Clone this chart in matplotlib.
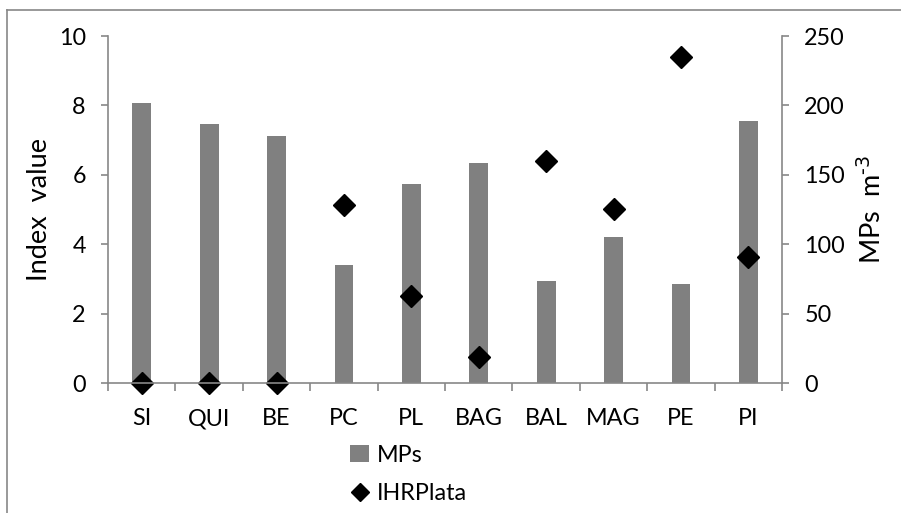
import numpy as np
import matplotlib.pyplot as plt
from matplotlib.lines import Line2D

plt.rcParams['font.family'] = ['Lato', 'DejaVu Sans']

sites = ["SI", "QUI", "BE", "PC", "PL", "BAG", "BAL", "MAG", "PE", "PI"]
mps = [201.5, 187, 178, 85, 143.5, 158.5, 73.5, 105, 71.5, 188.5]
ihr_plata = [0, 0, 0, 5.12, 2.5, 0.75, 6.39, 5.01, 9.39, 3.63]

grey = "#878787"
fs = 16.8
x = np.arange(len(sites))

fig = plt.figure(figsize=(9.01, 5.13), dpi=100)
ax_l = fig.add_axes([0.1199, 0.2528, 0.7481, 0.677])
ax_r = ax_l.twinx()

# bars on the right axis, drawn underneath the diamonds
ax_r.set_zorder(1)
ax_l.set_zorder(2)
ax_l.patch.set_visible(False)

bars = ax_r.bar(x, mps, width=0.28, color="#808080", label="MPs")
pts, = ax_l.plot(x, ihr_plata, linestyle="none", marker="D", markersize=11.5,
                 color="black", clip_on=False, label="IHRPlata")

ax_l.set_xlim(-0.5, 9.5)
ax_l.set_ylim(0, 10)
ax_r.set_ylim(0, 250)
ax_l.set_yticks(np.arange(0, 11, 2))
ax_r.set_yticks(np.arange(0, 251, 50))

# category labels centred, ticks on the boundaries
ax_l.set_xticks(np.arange(-0.5, 10, 1))
ax_l.set_xticklabels([])
ax_l.set_xticks(x, minor=True)
ax_l.set_xticklabels(sites, minor=True)
ax_l.tick_params(axis="x", which="major", direction="out", length=6, color=grey, width=1.2)
ax_l.tick_params(axis="x", which="minor", length=0, pad=18, labelsize=fs)
ax_l.tick_params(axis="y", direction="out", length=5, color=grey, width=1.2, pad=11, labelsize=fs)
ax_r.tick_params(axis="y", direction="out", length=5, color=grey, width=1.2, pad=11, labelsize=fs)

for a in (ax_l, ax_r):
    a.spines["top"].set_visible(False)
    for s in ("left", "right", "bottom"):
        a.spines[s].set_color(grey)
        a.spines[s].set_linewidth(1.2)
ax_l.spines["right"].set_visible(False)
ax_r.spines["left"].set_visible(False)
ax_r.spines["bottom"].set_visible(False)

ax_l.set_ylabel("Index  value", fontsize=19.5)
ax_l.yaxis.set_label_coords(-0.083, 0.5)
ax_r.set_ylabel("MPs  m$^{\\text{-3}}$", fontsize=19.5)
ax_r.yaxis.set_label_coords(1.112, 0.5)

fig.legend(handles=[bars, pts], loc="upper left", bbox_to_anchor=(0.376, 0.156),
           frameon=False, fontsize=fs, handlelength=0.8, handletextpad=0.35,
           labelspacing=0.75, borderpad=0, markerscale=0.8)

# chart area border
fig.add_artist(Line2D([7 / 901, 7 / 901], [0, 1 - 10 / 513], transform=fig.transFigure,
                      color=grey, linewidth=1.2))
fig.add_artist(Line2D([7 / 901, 1], [1 - 10 / 513, 1 - 10 / 513], transform=fig.transFigure,
                      color=grey, linewidth=1.2))

fig.savefig("out.png", dpi=100)
